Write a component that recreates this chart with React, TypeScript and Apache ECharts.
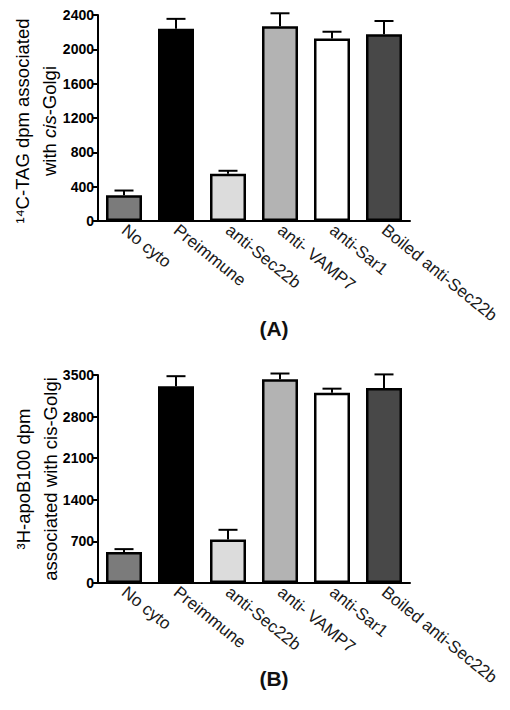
import React, { useEffect, useRef } from "react";
import * as echarts from "echarts";

const categories = ["No cyto", "Preimmune", "anti-Sec22b", "anti- VAMP7", "anti-Sar1", "Boiled anti-Sec22b"];
const tagMeans = [300, 2240, 550, 2270, 2125, 2175];
const tagErrors = [55, 115, 35, 150, 80, 155];
const apoMeans = [520, 3310, 730, 3430, 3200, 3280];
const apoErrors = [50, 170, 165, 95, 70, 230];
const barColors = ["#7b7b7b", "#000000", "#dcdcdc", "#b3b3b3", "#ffffff", "#484848"];

const FONT = "'Liberation Sans', Arial, Helvetica, sans-serif";

function errorRender(params: any, api: any) {
  const idx = api.value(0);
  const mean = api.value(1);
  const err = api.value(2);
  const top = api.coord([idx, mean + err]);
  const base = api.coord([idx, mean]);
  const half = 9.5;
  const style = { stroke: "#000", lineWidth: 2 };
  return {
    type: "group",
    children: [
      { type: "line", shape: { x1: base[0], y1: base[1], x2: top[0], y2: top[1] }, style },
      { type: "line", shape: { x1: top[0] - half, y1: top[1], x2: top[0] + half, y2: top[1] }, style },
    ],
  };
}

function makeX(gridIndex: number) {
  return {
    type: "category",
    gridIndex,
    data: categories,
    axisLine: { lineStyle: { color: "#000", width: 2 } },
    axisTick: { alignWithLabel: true, length: 5, lineStyle: { color: "#000", width: 2 } },
    axisLabel: { rotate: -39, fontSize: 17, color: "#1a1a1a", fontFamily: FONT, margin: 7, interval: 0 },
  };
}

function makeY(gridIndex: number, max: number, interval: number) {
  return {
    type: "value",
    gridIndex,
    min: 0,
    max,
    interval,
    splitLine: { show: false },
    axisLine: { show: true, lineStyle: { color: "#000", width: 2 } },
    axisTick: { show: true, length: 5, lineStyle: { color: "#000", width: 2 } },
    axisLabel: {
      fontSize: 14,
      fontWeight: "bold",
      color: "#000",
      fontFamily: FONT,
      margin: 4,
      formatter: (v: number) => String(v),
    },
  };
}

function barSeries(idx: number, values: number[]) {
  return {
    type: "bar",
    xAxisIndex: idx,
    yAxisIndex: idx,
    barWidth: 36,
    data: values.map((v, i) => ({
      value: v,
      itemStyle: { color: barColors[i], borderColor: "#000", borderWidth: 2.5 },
    })),
  };
}

function errSeries(idx: number, means: number[], errs: number[]) {
  return {
    type: "custom",
    xAxisIndex: idx,
    yAxisIndex: idx,
    renderItem: errorRender,
    z: 1,
    data: means.map((m, i) => [i, m, errs[i]]),
  };
}

export default function App() {
  const ref = useRef<HTMLDivElement>(null);
  useEffect(() => {
    if (!ref.current) return;
    const chart = echarts.init(ref.current, null, { renderer: "svg" });
    const titleRich = {
      a: { fontSize: 18.5, color: "#333", fontFamily: FONT, lineHeight: 27 },
      i: { fontSize: 18.5, color: "#333", fontFamily: FONT, fontStyle: "italic", lineHeight: 27 },
    };
    chart.setOption({
      animation: false,
      backgroundColor: "#fff",
      grid: [
        { left: 98, top: 15, width: 312, height: 206 },
        { left: 98, top: 375, width: 312, height: 208 },
      ],
      xAxis: [makeX(0), makeX(1)],
      yAxis: [makeY(0, 2400, 400), makeY(1, 3500, 700)],
      series: [
        errSeries(0, tagMeans, tagErrors),
        barSeries(0, tagMeans),
        errSeries(1, apoMeans, apoErrors),
        barSeries(1, apoMeans),
      ],
      graphic: [
        {
          type: "text",
          x: 36,
          y: 121,
          rotation: Math.PI / 2,
          style: {
            text: "{a|\u00b9\u2074C-TAG dpm associated}\n{a|with }{i|cis}{a|-Golgi}",
            rich: titleRich,
            align: "center",
            verticalAlign: "middle",
          },
        },
        {
          type: "text",
          x: 37,
          y: 479,
          rotation: Math.PI / 2,
          style: {
            text: "{a|\u00b3H-apoB100 dpm}\n{a|associated with cis-Golgi}",
            rich: titleRich,
            align: "center",
            verticalAlign: "middle",
          },
        },
        {
          type: "text",
          x: 274,
          y: 328,
          style: { text: "(A)", font: `bold 21px ${FONT}`, fill: "#111", align: "center", verticalAlign: "middle" },
        },
        {
          type: "text",
          x: 274,
          y: 678,
          style: { text: "(B)", font: `bold 21px ${FONT}`, fill: "#111", align: "center", verticalAlign: "middle" },
        },
      ],
    });
    return () => chart.dispose();
  }, []);
  return <div ref={ref} style={{ position: "absolute", left: 0, top: 0, width: 510, height: 710 }} />;
}
